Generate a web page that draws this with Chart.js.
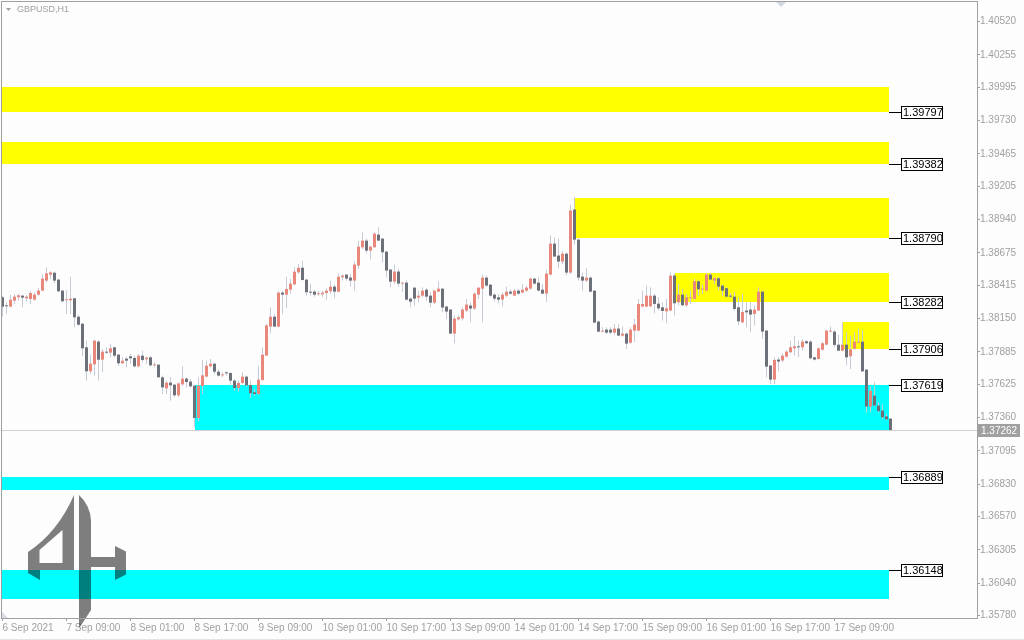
<!DOCTYPE html>
<html>
<head>
<meta charset="utf-8">
<title>GBPUSD,H1</title>
<script src="https://cdn.jsdelivr.net/npm/chart.js@4.4.0/dist/chart.umd.min.js"></script>
<style>
  html, body { margin: 0; padding: 0; background: #ffffff; }
  #wrap { position: relative; width: 1024px; height: 640px; }
</style>
</head>
<body>
<div id="wrap"><canvas id="chart"></canvas></div>
<script>
// ===============================
// Data (GBPUSD H1, 6 Sep 17:00 -> 17 Sep 23:00)
// ===============================
const symbolTitle = "GBPUSD,H1";

const open = [
  1.38321, 1.38257, 1.38246, 1.38294, 1.38321, 1.38334, 1.38313, 1.38307, 1.38302, 1.38342,
  1.38374, 1.38454, 1.38501, 1.38517, 1.38462, 1.38374, 1.38297, 1.38297, 1.38313, 1.38166,
  1.38110, 1.37922, 1.37730, 1.37786, 1.37967, 1.37823, 1.37887, 1.37879, 1.37922, 1.37863,
  1.37794, 1.37831, 1.37850, 1.37837, 1.37770, 1.37855, 1.37826, 1.37842, 1.37778, 1.37783,
  1.37682, 1.37594, 1.37640, 1.37624, 1.37539, 1.37626, 1.37672, 1.37648, 1.37616, 1.37358,
  1.37613, 1.37688, 1.37770, 1.37791, 1.37727, 1.37698, 1.37719, 1.37717, 1.37656, 1.37597,
  1.37637, 1.37688, 1.37621, 1.37563, 1.37549, 1.37661, 1.37855, 1.38087, 1.38166, 1.38087,
  1.38358, 1.38342, 1.38382, 1.38424, 1.38520, 1.38557, 1.38462, 1.38366, 1.38366, 1.38345,
  1.38345, 1.38355, 1.38369, 1.38406, 1.38366, 1.38481, 1.38502, 1.38478, 1.38454, 1.38574,
  1.38720, 1.38773, 1.38693, 1.38720, 1.38821, 1.38789, 1.38685, 1.38542, 1.38446, 1.38526,
  1.38430, 1.38438, 1.38310, 1.38398, 1.38318, 1.38334, 1.38382, 1.38334, 1.38278, 1.38366,
  1.38390, 1.38247, 1.38223, 1.38031, 1.38145, 1.38153, 1.38215, 1.38255, 1.38231, 1.38342,
  1.38390, 1.38478, 1.38422, 1.38342, 1.38321, 1.38302, 1.38334, 1.38366, 1.38334, 1.38374,
  1.38358, 1.38374, 1.38390, 1.38470, 1.38438, 1.38382, 1.38350, 1.38502, 1.38749, 1.38654,
  1.38606, 1.38669, 1.38518, 1.39021, 1.38781, 1.38486, 1.38454, 1.38478, 1.38374, 1.38127,
  1.38047, 1.38063, 1.38063, 1.38039, 1.38071, 1.38015, 1.38031, 1.37959, 1.38055, 1.38055,
  1.38247, 1.38247, 1.38249, 1.38334, 1.38270, 1.38241, 1.38209, 1.38215, 1.38494, 1.38281,
  1.38342, 1.38257, 1.38313, 1.38308, 1.38449, 1.38382, 1.38374, 1.38502, 1.38454, 1.38473,
  1.38414, 1.38393, 1.38334, 1.38326, 1.38241, 1.38121, 1.38215, 1.38223, 1.38188, 1.38215,
  1.38366, 1.38055, 1.37776, 1.37664, 1.37824, 1.37816, 1.37847, 1.37882, 1.37914, 1.37930,
  1.37922, 1.37970, 1.37967, 1.37842, 1.37829, 1.37903, 1.37943, 1.38047, 1.38047, 1.37943,
  1.37895, 1.37943, 1.37850, 1.37911, 1.37959, 1.37967, 1.37744, 1.37449, 1.37536, 1.37457,
  1.37417, 1.37371, 1.37353
];

const high = [
  1.38334, 1.38286, 1.38339, 1.38347, 1.38347, 1.38342, 1.38339, 1.38374, 1.38361, 1.38395,
  1.38507, 1.38560, 1.38528, 1.38525, 1.38467, 1.38379, 1.38379, 1.38485, 1.38318, 1.38182,
  1.38116, 1.37975, 1.37863, 1.37980, 1.37980, 1.37908, 1.37922, 1.37948, 1.37927, 1.37868,
  1.37842, 1.37847, 1.37868, 1.37855, 1.37868, 1.37895, 1.37847, 1.37855, 1.37802, 1.37788,
  1.37696, 1.37656, 1.37682, 1.37629, 1.37642, 1.37770, 1.37682, 1.37669, 1.37616, 1.37682,
  1.37821, 1.37815, 1.37829, 1.37797, 1.37749, 1.37722, 1.37730, 1.37722, 1.37669, 1.37656,
  1.37722, 1.37696, 1.37656, 1.37589, 1.37770, 1.37922, 1.38108, 1.38241, 1.38188, 1.38369,
  1.38374, 1.38485, 1.38467, 1.38560, 1.38587, 1.38613, 1.38467, 1.38427, 1.38379, 1.38374,
  1.38374, 1.38393, 1.38454, 1.38422, 1.38512, 1.38507, 1.38507, 1.38507, 1.38606, 1.38773,
  1.38840, 1.38787, 1.38733, 1.38840, 1.38880, 1.38795, 1.38693, 1.38547, 1.38582, 1.38547,
  1.38441, 1.38454, 1.38321, 1.38401, 1.38374, 1.38401, 1.38393, 1.38361, 1.38380, 1.38446,
  1.38396, 1.38254, 1.38228, 1.38175, 1.38175, 1.38241, 1.38308, 1.38281, 1.38361, 1.38401,
  1.38502, 1.38494, 1.38427, 1.38353, 1.38348, 1.38361, 1.38406, 1.38385, 1.38388, 1.38388,
  1.38427, 1.38414, 1.38481, 1.38475, 1.38481, 1.38427, 1.38539, 1.38813, 1.38800, 1.38787,
  1.38693, 1.38680, 1.39060, 1.39119, 1.38787, 1.38518, 1.38555, 1.38486, 1.38380, 1.38135,
  1.38082, 1.38082, 1.38082, 1.38108, 1.38108, 1.38087, 1.38042, 1.38082, 1.38148, 1.38308,
  1.38374, 1.38414, 1.38401, 1.38348, 1.38321, 1.38281, 1.38308, 1.38520, 1.38512, 1.38427,
  1.38388, 1.38348, 1.38374, 1.38467, 1.38454, 1.38422, 1.38515, 1.38515, 1.38481, 1.38481,
  1.38422, 1.38401, 1.38353, 1.38361, 1.38321, 1.38348, 1.38281, 1.38281, 1.38255, 1.38401,
  1.38374, 1.38060, 1.37781, 1.37842, 1.37842, 1.37874, 1.37901, 1.37975, 1.38015, 1.37975,
  1.37989, 1.37981, 1.37981, 1.37847, 1.37922, 1.37967, 1.38060, 1.38087, 1.38060, 1.38023,
  1.38121, 1.38042, 1.38015, 1.38042, 1.38068, 1.38055, 1.37749, 1.37611, 1.37643, 1.37483,
  1.37470, 1.37390, 1.37358
];

const low = [
  1.38167, 1.38188, 1.38241, 1.38267, 1.38294, 1.38241, 1.38281, 1.38267, 1.38294, 1.38334,
  1.38369, 1.38441, 1.38467, 1.38432, 1.38361, 1.38281, 1.38188, 1.38188, 1.38081, 1.38094,
  1.37850, 1.37656, 1.37709, 1.37696, 1.37656, 1.37722, 1.37868, 1.37842, 1.37842, 1.37775,
  1.37788, 1.37762, 1.37788, 1.37762, 1.37762, 1.37802, 1.37788, 1.37770, 1.37762, 1.37682,
  1.37549, 1.37549, 1.37496, 1.37523, 1.37523, 1.37616, 1.37602, 1.37602, 1.37283, 1.37331,
  1.37549, 1.37682, 1.37762, 1.37709, 1.37688, 1.37682, 1.37696, 1.37616, 1.37576, 1.37570,
  1.37629, 1.37608, 1.37517, 1.37536, 1.37544, 1.37656, 1.37855, 1.38033, 1.38081, 1.38081,
  1.38188, 1.38233, 1.38347, 1.38414, 1.38507, 1.38454, 1.38334, 1.38334, 1.38326, 1.38334,
  1.38321, 1.38302, 1.38347, 1.38313, 1.38361, 1.38454, 1.38454, 1.38406, 1.38374, 1.38547,
  1.38707, 1.38672, 1.38622, 1.38715, 1.38768, 1.38600, 1.38481, 1.38401, 1.38427, 1.38406,
  1.38366, 1.38294, 1.38241, 1.38254, 1.38281, 1.38321, 1.38294, 1.38241, 1.38268, 1.38361,
  1.38201, 1.38148, 1.38028, 1.37954, 1.38135, 1.38135, 1.38201, 1.38121, 1.38220, 1.38308,
  1.38121, 1.38406, 1.38326, 1.38289, 1.38273, 1.38247, 1.38321, 1.38342, 1.38329, 1.38342,
  1.38353, 1.38361, 1.38382, 1.38422, 1.38369, 1.38345, 1.38281, 1.38494, 1.38640, 1.38552,
  1.38587, 1.38494, 1.38507, 1.38741, 1.38454, 1.38374, 1.38441, 1.38361, 1.38114, 1.38042,
  1.38042, 1.38028, 1.38028, 1.38023, 1.38012, 1.38007, 1.37909, 1.37949, 1.37962, 1.38050,
  1.38241, 1.38241, 1.38241, 1.38193, 1.38215, 1.38135, 1.38114, 1.38209, 1.38175, 1.38255,
  1.38252, 1.38241, 1.38268, 1.38302, 1.38334, 1.38348, 1.38369, 1.38454, 1.38427, 1.38374,
  1.38334, 1.38321, 1.38316, 1.38215, 1.38095, 1.38114, 1.38082, 1.38042, 1.38095, 1.38209,
  1.37989, 1.37683, 1.37629, 1.37629, 1.37730, 1.37802, 1.37842, 1.37874, 1.37855, 1.37842,
  1.37895, 1.37949, 1.37829, 1.37816, 1.37824, 1.37895, 1.37938, 1.38042, 1.37922, 1.37890,
  1.37890, 1.37776, 1.37749, 1.37903, 1.37957, 1.37725, 1.37398, 1.37404, 1.37449, 1.37404,
  1.37350, 1.37342, 1.37252
];

const close = [
  1.38246, 1.38249, 1.38302, 1.38326, 1.38337, 1.38318, 1.38326, 1.38355, 1.38342, 1.38374,
  1.38470, 1.38512, 1.38520, 1.38454, 1.38369, 1.38289, 1.38305, 1.38310, 1.38161, 1.38102,
  1.37914, 1.37730, 1.37791, 1.37975, 1.37823, 1.37887, 1.37879, 1.37914, 1.37855, 1.37794,
  1.37815, 1.37815, 1.37834, 1.37770, 1.37855, 1.37821, 1.37839, 1.37778, 1.37786, 1.37682,
  1.37602, 1.37640, 1.37618, 1.37539, 1.37634, 1.37672, 1.37645, 1.37610, 1.37358, 1.37616,
  1.37698, 1.37775, 1.37791, 1.37727, 1.37696, 1.37706, 1.37714, 1.37656, 1.37597, 1.37637,
  1.37688, 1.37618, 1.37555, 1.37549, 1.37664, 1.37863, 1.38097, 1.38166, 1.38087, 1.38358,
  1.38342, 1.38387, 1.38430, 1.38525, 1.38557, 1.38459, 1.38361, 1.38358, 1.38342, 1.38350,
  1.38358, 1.38374, 1.38406, 1.38366, 1.38485, 1.38494, 1.38470, 1.38454, 1.38582, 1.38725,
  1.38773, 1.38693, 1.38725, 1.38829, 1.38773, 1.38680, 1.38534, 1.38446, 1.38526, 1.38430,
  1.38438, 1.38302, 1.38286, 1.38310, 1.38334, 1.38374, 1.38326, 1.38278, 1.38374, 1.38390,
  1.38239, 1.38207, 1.38031, 1.38151, 1.38161, 1.38223, 1.38263, 1.38231, 1.38350, 1.38398,
  1.38478, 1.38414, 1.38334, 1.38310, 1.38302, 1.38342, 1.38366, 1.38350, 1.38374, 1.38350,
  1.38382, 1.38398, 1.38470, 1.38430, 1.38374, 1.38350, 1.38510, 1.38749, 1.38646, 1.38606,
  1.38669, 1.38518, 1.39013, 1.38781, 1.38478, 1.38454, 1.38478, 1.38366, 1.38119, 1.38047,
  1.38055, 1.38039, 1.38039, 1.38071, 1.38015, 1.38031, 1.37951, 1.38063, 1.38103, 1.38268,
  1.38268, 1.38334, 1.38334, 1.38268, 1.38233, 1.38212, 1.38233, 1.38494, 1.38273, 1.38342,
  1.38257, 1.38321, 1.38321, 1.38449, 1.38385, 1.38390, 1.38502, 1.38462, 1.38473, 1.38406,
  1.38374, 1.38326, 1.38326, 1.38228, 1.38129, 1.38204, 1.38201, 1.38183, 1.38223, 1.38366,
  1.38047, 1.37768, 1.37664, 1.37821, 1.37808, 1.37855, 1.37887, 1.37922, 1.37930, 1.37922,
  1.37967, 1.37954, 1.37834, 1.37824, 1.37914, 1.37954, 1.38055, 1.38055, 1.37941, 1.37895,
  1.37943, 1.37842, 1.37906, 1.37967, 1.37967, 1.37730, 1.37449, 1.37576, 1.37457, 1.37412,
  1.37363, 1.37347, 1.37262
];

const currentPrice = 1.37262;

// time axis: one label every 16 bars
const xTickIndex = [0, 16, 32, 48, 64, 80, 96, 112, 128, 144, 160, 176, 192, 208];
const xTickLabels = [
  "6 Sep 2021", "7 Sep 09:00", "8 Sep 01:00", "8 Sep 17:00", "9 Sep 09:00",
  "10 Sep 01:00", "10 Sep 17:00", "13 Sep 09:00", "14 Sep 01:00", "14 Sep 17:00",
  "15 Sep 09:00", "16 Sep 01:00", "16 Sep 17:00", "17 Sep 09:00"
];

const yTicks = [
  1.40520, 1.40255, 1.39995, 1.39730, 1.39465, 1.39205, 1.38940, 1.38675, 1.38415, 1.38150,
  1.37885, 1.37625, 1.37360, 1.37095, 1.36830, 1.36570, 1.36305, 1.36040, 1.35780
];

// supply / demand zones (null start = from the left edge)
const zoneType = ["supply", "supply", "supply", "supply", "supply", "demand", "demand", "demand"];
const zoneTop = [1.40001, 1.39562, 1.39116, 1.38517, 1.38126, 1.37619, 1.36889, 1.36148];
const zoneBottom = [1.39797, 1.39382, 1.38790, 1.38282, 1.37906, 1.37264, 1.36785, 1.35916];
const zoneFrom = [null, null, 143, 168, 210, 48, null, null];
const zoneLabel = [1.39797, 1.39382, 1.38790, 1.38282, 1.37906, 1.37619, 1.36889, 1.36148];

// ===============================
// Colours & fonts
// ===============================
const bullColor = "#e9877b";
const bearColor = "#6c7079";
const wickColor = "#c6cbd8";
const axisColor = "#a0a0a0";
const FONT = "'Liberation Sans', Arial, sans-serif";

// ===============================
// Drawing helpers (zones, tags, frame, watermark)
// ===============================
function drawLogo(ctx) {
  ctx.save();
  ctx.fillStyle = "rgba(0, 0, 0, 0.5)";

  // left part with its hole
  ctx.beginPath();
  ctx.moveTo(74, 495);
  ctx.lineTo(74, 570);
  ctx.lineTo(40, 570);
  ctx.lineTo(40, 580);
  ctx.lineTo(28, 573);
  ctx.lineTo(28, 552);
  ctx.quadraticCurveTo(58, 532, 74, 495);
  ctx.closePath();
  ctx.moveTo(62.5, 530);
  ctx.lineTo(62.5, 563);
  ctx.lineTo(39.5, 563);
  ctx.lineTo(39.5, 550);
  ctx.closePath();
  ctx.fill("evenodd");

  // stem
  ctx.beginPath();
  ctx.moveTo(79, 495);
  ctx.quadraticCurveTo(90, 505, 91, 520);
  ctx.lineTo(91, 610);
  ctx.lineTo(80, 627);
  ctx.lineTo(79, 627);
  ctx.closePath();
  ctx.fill();

  // cross bar and right notch
  ctx.fillRect(91, 557, 24, 10);
  ctx.beginPath();
  ctx.moveTo(115, 546);
  ctx.lineTo(126, 551.5);
  ctx.lineTo(126, 574.5);
  ctx.lineTo(115, 580);
  ctx.closePath();
  ctx.fill();
  ctx.restore();
}

const mtPlugin = {
  id: "mtChrome",
  beforeDraw(chart) {
    const { ctx, width, height } = chart;
    ctx.save();
    ctx.fillStyle = "#fdfdfe";
    ctx.fillRect(0, 0, width, height);
    ctx.fillStyle = "#e4e4e4";
    ctx.fillRect(0, height - 1, width, 1);
    ctx.restore();
  },
  beforeDatasetsDraw(chart) {
    const { ctx, chartArea: area, scales: { x, y } } = chart;
    const xEnd = Math.round(x.getPixelForValue(close.length - 1.3));

    ctx.save();
    zoneTop.forEach((top, i) => {
      const x0 = Math.round(zoneFrom[i] === null ? area.left : x.getPixelForValue(zoneFrom[i]));
      const y0 = Math.round(y.getPixelForValue(top));
      const y1 = Math.round(y.getPixelForValue(zoneBottom[i]));
      ctx.fillStyle = zoneType[i] === "supply" ? "#ffff00" : "#00ffff";
      ctx.fillRect(x0, y0, xEnd - x0, y1 - y0);
    });

    // current price line
    const py = Math.round(y.getPixelForValue(currentPrice)) + 0.5;
    ctx.strokeStyle = "#d0d0d0";
    ctx.lineWidth = 1;
    ctx.beginPath();
    ctx.moveTo(area.left, py);
    ctx.lineTo(area.right, py);
    ctx.stroke();

    // bottom-left corner mark
    ctx.fillStyle = "#d8dce6";
    ctx.beginPath();
    ctx.moveTo(area.left, area.bottom - 6);
    ctx.lineTo(area.left, area.bottom);
    ctx.lineTo(area.left + 6, area.bottom);
    ctx.closePath();
    ctx.fill();
    ctx.restore();

    drawLogo(ctx);
  },
  afterDatasetsDraw(chart) {
    const { ctx, scales: { x, y } } = chart;
    const xEnd = Math.round(x.getPixelForValue(close.length - 1.3));
    const boxLeft = xEnd + 12;

    ctx.save();
    ctx.font = "11px " + FONT;
    ctx.textBaseline = "middle";
    ctx.textAlign = "left";
    zoneLabel.forEach((value) => {
      const ly = Math.round(y.getPixelForValue(value)) + 0.5;
      ctx.strokeStyle = "#000000";
      ctx.lineWidth = 1;
      ctx.beginPath();
      ctx.moveTo(xEnd, ly);
      ctx.lineTo(boxLeft, ly);
      ctx.stroke();
      ctx.fillStyle = "#ffffff";
      ctx.fillRect(boxLeft + 0.5, ly - 6, 41, 12);
      ctx.strokeRect(boxLeft + 0.5, ly - 6, 41, 12);
      ctx.fillStyle = "#000000";
      ctx.fillText(value.toFixed(5), boxLeft + 2, ly + 0.5);
    });
    ctx.restore();
  },
  afterDraw(chart) {
    const { ctx, chartArea: area, scales: { y } } = chart;
    ctx.save();

    // frame
    ctx.strokeStyle = axisColor;
    ctx.lineWidth = 1;
    ctx.strokeRect(area.left - 0.5, area.top - 0.5, area.right - area.left + 1, area.bottom - area.top + 1);

    // title
    ctx.fillStyle = axisColor;
    ctx.beginPath();
    ctx.moveTo(6, 8);
    ctx.lineTo(11, 8);
    ctx.lineTo(8.5, 11);
    ctx.closePath();
    ctx.fill();
    ctx.font = "9px " + FONT;
    ctx.textBaseline = "middle";
    ctx.fillText(symbolTitle, 17, 10);

    // chart shift marker
    ctx.fillStyle = "#d4d8e2";
    ctx.beginPath();
    ctx.moveTo(776, area.top);
    ctx.lineTo(786, area.top);
    ctx.lineTo(781, area.top + 5);
    ctx.closePath();
    ctx.fill();

    // current price tag
    const py = Math.round(y.getPixelForValue(currentPrice));
    ctx.fillStyle = axisColor;
    ctx.fillRect(area.right + 1, py - 6, 42, 13);
    ctx.fillStyle = "#ffffff";
    ctx.font = "10px " + FONT;
    ctx.textAlign = "left";
    ctx.fillText(currentPrice.toFixed(5), area.right + 4, py + 1);
    ctx.restore();
  }
};

// ===============================
// Chart
// ===============================
const ctx = document.getElementById("chart").getContext("2d");

new Chart(ctx, {
  type: "bar",
  data: {
    datasets: [
      {
        label: "Body",
        data: open.map((o, i) => ({ x: i, y: [o, close[i]] })),
        backgroundColor: open.map((o, i) => (close[i] >= o ? bullColor : bearColor)),
        grouped: false,
        categoryPercentage: 1,
        barPercentage: 1,
        maxBarThickness: 3,
        minBarLength: 1,
        borderWidth: 0,
        inflateAmount: 0,
      },
      {
        label: "Wick",
        data: high.map((h, i) => ({ x: i, y: [low[i], h] })),
        backgroundColor: wickColor,
        grouped: false,
        categoryPercentage: 1,
        barPercentage: 1,
        maxBarThickness: 1,
        borderWidth: 0,
        inflateAmount: 0,
      },
    ],
  },
  options: {
    responsive: true,
    maintainAspectRatio: false,
    animation: false,
    events: [],
    layout: { padding: { left: 2, top: 2, right: 0, bottom: 0 } },
    plugins: {
      legend: { display: false },
      tooltip: { enabled: false },
    },
    scales: {
      x: {
        type: "linear",
        min: -0.125,
        max: 243.625,
        offset: false,
        afterBuildTicks: (s) => { s.ticks = xTickIndex.map((v) => ({ value: v })); },
        afterFit: (s) => { s.height = 22; s.paddingLeft = 0; s.paddingRight = 0; },
        grid: { offset: false, drawOnChartArea: false, drawTicks: true, tickLength: 3, color: axisColor },
        border: { display: false },
        ticks: {
          align: "start",
          maxRotation: 0,
          autoSkip: false,
          padding: 1,
          color: axisColor,
          font: { family: FONT, size: 10 },
          callback: (v, i) => xTickLabels[i],
        },
      },
      y: {
        position: "right",
        min: 1.35762,
        max: 1.40677,
        afterBuildTicks: (s) => { s.ticks = yTicks.map((v) => ({ value: v })); },
        afterFit: (s) => { s.width = 47; s.paddingTop = 0; s.paddingBottom = 0; },
        grid: { drawOnChartArea: false, drawTicks: true, tickLength: 3, color: axisColor },
        border: { display: false },
        ticks: {
          padding: 0,
          color: axisColor,
          font: { family: FONT, size: 10 },
          callback: (v) => v.toFixed(5),
        },
      },
    },
  },
  plugins: [mtPlugin],
});
</script>
</body>
</html>
